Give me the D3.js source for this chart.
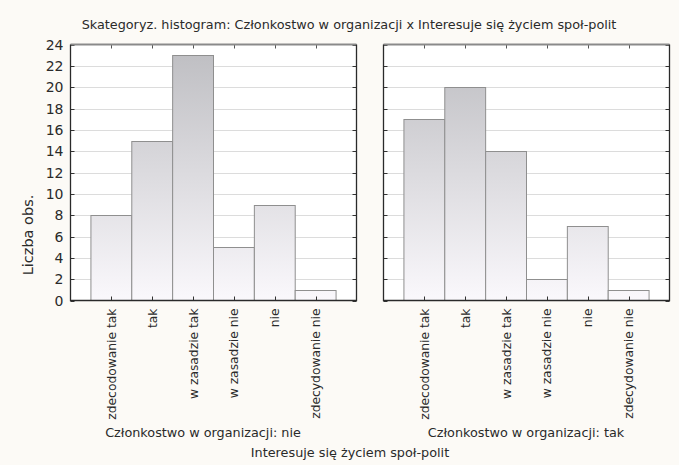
<!DOCTYPE html>
<html>
<head>
<meta charset="utf-8">
<script src="https://cdn.jsdelivr.net/npm/d3@7"></script>
<style>
  html, body { margin: 0; padding: 0; background: #fcfaf6; }
  svg { display: block; font-family: "DejaVu Sans", sans-serif; }
</style>
</head>
<body>
<svg id="chart" width="679" height="465"></svg>
<script>
// ---- data ----
const categories = ['zdecodowanie tak', 'tak', 'w zasadzie tak', 'w zasadzie nie', 'nie', 'zdecydowanie nie'];
const countsNie = [8, 15, 23, 5, 9, 1];
const countsTak = [17, 20, 14, 2, 7, 1];
const panelTitles = ['Członkostwo w organizacji: nie', 'Członkostwo w organizacji: tak'];
const yTicks = [0, 2, 4, 6, 8, 10, 12, 14, 16, 18, 20, 22, 24];

const svg = d3.select('#chart');
const plotTop = 44.5, plotBottom = 300.5;
const panels = [
  { x0: 70.5, x1: 356.5, data: countsNie, title: panelTitles[0], titleX: 203, labels: true },
  { x0: 383.5, x1: 669.5, data: countsTak, title: panelTitles[1], titleX: 526, labels: false }
];

const y = d3.scaleLinear().domain([0, 24]).range([plotBottom, plotTop]);

// shared gradient over the plot height (taller bars get darker tops)
const defs = svg.append('defs');
const grad = defs.append('linearGradient')
  .attr('id', 'barGrad')
  .attr('gradientUnits', 'userSpaceOnUse')
  .attr('x1', 0).attr('x2', 0).attr('y1', plotTop).attr('y2', plotBottom);
grad.append('stop').attr('offset', '0%').attr('stop-color', '#bdbdc1');
grad.append('stop').attr('offset', '100%').attr('stop-color', '#faf8fc');

// main title
svg.append('text')
  .attr('x', 349).attr('y', 29)
  .attr('text-anchor', 'middle')
  .attr('font-size', 12.8)
  .attr('fill', '#2a2a2a')
  .text('Skategoryz. histogram: Członkostwo w organizacji x Interesuje się życiem społ-polit');

panels.forEach(p => {
  const x = d3.scaleLinear().domain([0, 7]).range([p.x0, p.x1]);
  const g = svg.append('g');

  g.append('rect')
    .attr('x', p.x0).attr('y', plotTop)
    .attr('width', p.x1 - p.x0).attr('height', plotBottom - plotTop)
    .attr('fill', '#fff');

  // horizontal gridlines
  g.selectAll('line.grid')
    .data(yTicks.slice(1, -1)).join('line')
    .attr('class', 'grid')
    .attr('x1', p.x0).attr('x2', p.x1)
    .attr('y1', d => Math.round(y(d)) + 0.5).attr('y2', d => Math.round(y(d)) + 0.5)
    .attr('stroke', '#dcdcdc');

  // bars
  g.selectAll('rect.bar')
    .data(p.data).join('rect')
    .attr('class', 'bar')
    .attr('x', (d, i) => x(i + 0.5))
    .attr('width', (d, i) => x(i + 1.5) - x(i + 0.5))
    .attr('y', d => Math.round(y(d)) + 0.5)
    .attr('height', d => plotBottom - (Math.round(y(d)) + 0.5))
    .attr('fill', 'url(#barGrad)')
    .attr('stroke', '#8f8f8f')
    .attr('stroke-width', 1);

  // inward ticks: bottom & top at categories, left & right at y ticks
  categories.forEach((c, i) => {
    const cx = Math.round(x(i + 1)) + 0.5;
    g.append('line').attr('x1', cx).attr('x2', cx).attr('y1', plotBottom).attr('y2', plotBottom - 4).attr('stroke', '#333');
    g.append('line').attr('x1', cx).attr('x2', cx).attr('y1', plotTop).attr('y2', plotTop + 4).attr('stroke', '#555');
  });
  yTicks.forEach(t => {
    const ty = Math.round(y(t)) + 0.5;
    g.append('line').attr('x1', p.x0).attr('x2', p.x0 + 4).attr('y1', ty).attr('y2', ty).attr('stroke', '#333');
    g.append('line').attr('x1', p.x1).attr('x2', p.x1 - 4).attr('y1', ty).attr('y2', ty).attr('stroke', '#333');
  });

  // frame: grey top, dark other sides
  g.append('line').attr('x1', p.x0).attr('x2', p.x1).attr('y1', plotTop).attr('y2', plotTop)
    .attr('stroke', '#8a8a8a').attr('stroke-width', 2);
  g.append('path')
    .attr('d', `M${p.x0},${plotTop}V${plotBottom}H${p.x1}V${plotTop}`)
    .attr('fill', 'none').attr('stroke', '#2a2a2a').attr('stroke-width', 1.3);

  // category labels, rotated
  g.selectAll('text.cat')
    .data(categories).join('text')
    .attr('class', 'cat')
    .attr('transform', (d, i) => `translate(${x(i + 1) + 4.5},${plotBottom + 8}) rotate(-90)`)
    .attr('text-anchor', 'end')
    .attr('font-size', 12.3)
    .attr('fill', '#2a2a2a')
    .text(d => d);

  g.append('text')
    .attr('x', p.titleX).attr('y', 437)
    .attr('text-anchor', 'middle')
    .attr('font-size', 12.8)
    .attr('fill', '#2a2a2a')
    .text(p.title);

  if (p.labels) {
    g.selectAll('text.ytick')
      .data(yTicks).join('text')
      .attr('class', 'ytick')
      .attr('x', p.x0 - 7).attr('y', d => y(d))
      .attr('dy', '0.36em')
      .attr('text-anchor', 'end')
      .attr('font-size', 14)
      .attr('fill', '#2a2a2a')
      .text(d => d);
  }
});

// axis titles
svg.append('text')
  .attr('transform', 'translate(33,235) rotate(-90)')
  .attr('text-anchor', 'middle')
  .attr('font-size', 14.5)
  .attr('fill', '#2a2a2a')
  .text('Liczba obs.');

svg.append('text')
  .attr('x', 350).attr('y', 457)
  .attr('text-anchor', 'middle')
  .attr('font-size', 12.8)
  .attr('fill', '#2a2a2a')
  .text('Interesuje się życiem społ-polit');
</script>
</body>
</html>
